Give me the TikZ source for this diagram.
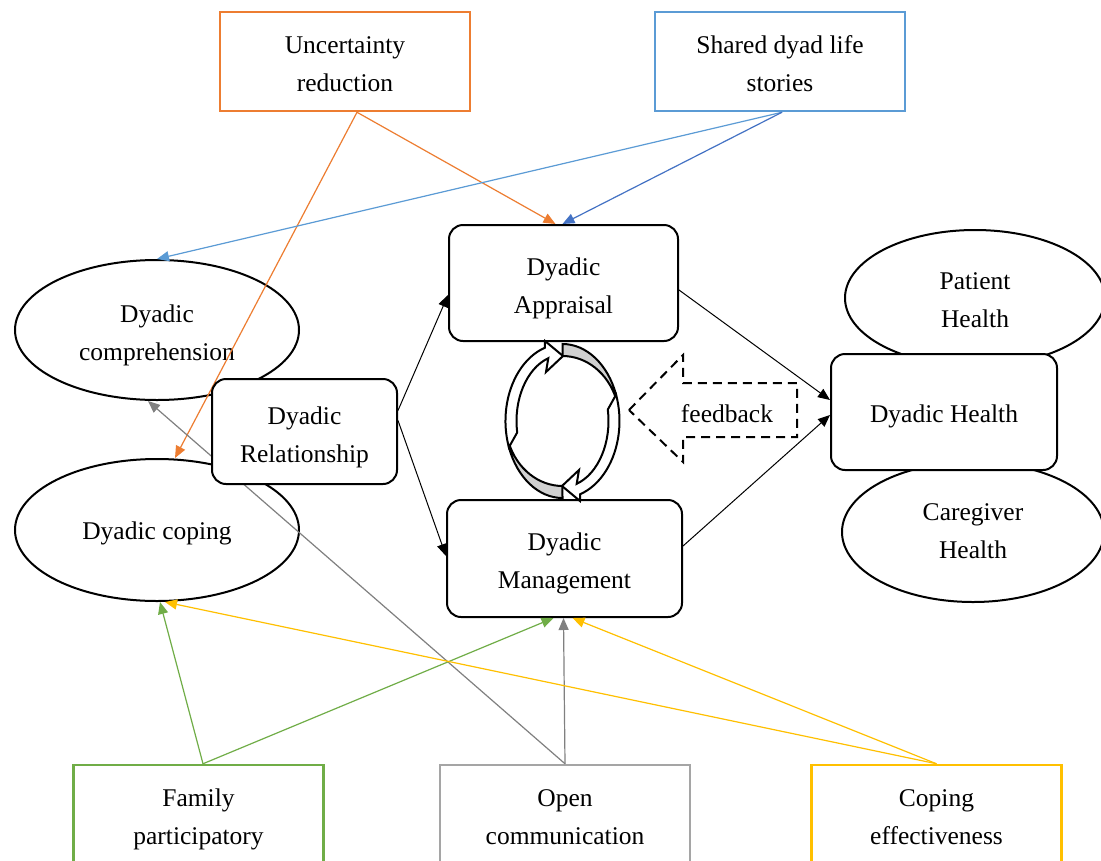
\documentclass[tikz,border=0pt]{standalone}
\usepackage{fontspec}
\setmainfont{Liberation Serif}
\usetikzlibrary{shapes.geometric,arrows.meta}
\definecolor{uorange}{RGB}{237,125,49}
\definecolor{ublue}{RGB}{91,155,213}
\definecolor{udblue}{RGB}{68,114,196}
\definecolor{ugray}{RGB}{165,165,165}
\definecolor{ugrayline}{RGB}{128,128,128}
\definecolor{ugreen}{RGB}{112,173,71}
\definecolor{ugold}{RGB}{255,192,0}
\definecolor{ushade}{RGB}{208,208,208}
\begin{document}
\begin{tikzpicture}
[every node/.style={inner sep=0pt, align=center, text height=24pt, font=\fontsize{25.5pt}{38pt}\selectfont},
 twoline/.style={text height=61pt},
 oval/.style={ellipse, line width=2pt, draw=black},
 sqbox/.style={rectangle, minimum width=250pt, minimum height=99pt, line width=2.5pt, twoline},
 rndbox/.style={rectangle, rounded corners=14pt, line width=2pt, draw=black, fill=white},
 link/.style={line width=1.2pt, -{Triangle[length=12pt,width=10pt]}}]
\useasboundingbox (0pt, 0pt) rectangle (1101pt, -860pt);
\clip (0pt, 0pt) rectangle (1101pt, -860pt);
\fill [white] (0pt, 0pt) rectangle (1101pt, -860pt);
\node (compr) [oval, minimum width=284pt, minimum height=140pt, text height=65.5pt] at (157.0pt, -330.0pt) {Dyadic\\comprehension};
\node (dcop) [oval, minimum width=284pt, minimum height=142pt] at (157.0pt, -530.0pt) {Dyadic coping};
\node (pat) [oval, minimum width=260pt, minimum height=136pt, text height=59.5pt] at (975.0pt, -298.0pt) {Patient\\Health};
\node (care) [oval, minimum width=262pt, minimum height=140pt, text height=53.5pt] at (973.0pt, -532.0pt) {Caregiver\\Health};
\node (unc) [sqbox, draw=uorange, text height=59.5pt] at (345.0pt, -61.5pt) {Uncertainty\\reduction};
\node (share) [sqbox, draw=ublue, text height=59.5pt] at (780.0pt, -61.5pt) {Shared dyad life\\stories};
\node (appr) [rndbox, minimum width=229pt, minimum height=116pt, text height=65.5pt] at (563.5pt, -283.0pt) {Dyadic\\Appraisal};
\node (mgmt) [rndbox, minimum width=235pt, minimum height=117pt, text height=65.5pt] at (564.5pt, -558.5pt) {Dyadic\\Management};
\node (fam) [sqbox, draw=ugreen, minimum height=102pt, text height=61.5pt] at (198.5pt, -816.0pt) {Family\\participatory};
\node (open) [sqbox, draw=ugray, minimum height=102pt, text height=57.5pt] at (565.0pt, -816.0pt) {Open\\communication};
\node (ceff) [sqbox, draw=ugold, minimum height=102pt, text height=57.5pt] at (936.5pt, -816.0pt) {Coping\\effectiveness};
\draw [link, color=uorange] ([xshift=12pt]unc.south) to ([xshift=-8pt]appr.north);
\draw [link, color=uorange] ([xshift=12pt]unc.south) to ([xshift=18pt]dcop.north);
\draw [link, color=ublue] ([xshift=2pt]share.south) to (compr.north);
\draw [link, color=udblue] ([xshift=2pt]share.south) to ([xshift=-1pt]appr.north);
\draw [link, color=ugrayline] (open.north) to ([xshift=-9pt]compr.south);
\draw [link, color=ugrayline] (open.north) to ([xshift=-1pt]mgmt.south);
\draw [link, color=ugreen] ([xshift=4.5pt]fam.north) to ([xshift=3pt]dcop.south);
\draw [link, color=ugreen] ([xshift=4.5pt]fam.north) to ([xshift=-11pt]mgmt.south);
\draw [link, color=ugold] (ceff.north) to ([xshift=8pt]mgmt.south);
\draw [link, color=ugold] (ceff.north) to ([xshift=8pt]dcop.south);
\node (rel) [rndbox, minimum width=185pt, minimum height=105pt, text height=67.5pt] at (304.5pt, -431.5pt) {Dyadic\\Relationship};
\node (dh) [rndbox, minimum width=226pt, minimum height=116pt, text height=26.5pt] at (944.0pt, -412.0pt) {Dyadic Health};
\draw [link, line width=1pt] ([yshift=21pt]rel.east) to ([yshift=-12pt]appr.west);
\draw [link, line width=1pt] ([yshift=11pt]rel.east) to ([yshift=2.5pt]mgmt.west);
\draw [link, line width=1pt] ([yshift=-7pt]appr.east) to ([yshift=12pt]dh.west);
\draw [link, line width=1pt] ([yshift=12.5pt]mgmt.east) to ([yshift=-3pt]dh.west);
% cycle between appraisal and management
\draw [line width=2pt, fill=ushade] (562.5pt, -498pt) arc [start angle=270, end angle=200, x radius=57pt, y radius=77pt]
  -- (508.9pt, -443.2pt) arc [start angle=200, end angle=270, x radius=57pt, y radius=65pt] -- cycle;
\draw [line width=2pt, fill=white] (508.9pt, -447.3pt) arc [start angle=200, end angle=108, x radius=57pt, y radius=77pt]
  -- (545pt, -341pt) -- (563pt, -356pt) -- (546pt, -372pt) -- (548.3pt, -358.2pt)
  arc [start angle=108, end angle=190, x radius=46pt, y radius=66pt] -- cycle;
\draw [line width=2pt, fill=ushade] (562.5pt, -344pt) arc [start angle=90, end angle=20, x radius=57pt, y radius=77pt]
  -- (616.06pt, -398.77pt) arc [start angle=20, end angle=90, x radius=57pt, y radius=65pt] -- cycle;
\draw [line width=2pt, fill=white] (616.06pt, -394.66pt) arc [start angle=20, end angle=-72, x radius=57pt, y radius=77pt]
  -- (580pt, -501pt) -- (562pt, -486pt) -- (579pt, -470pt) -- (576.7pt, -483.8pt)
  arc [start angle=-72, end angle=10, x radius=46pt, y radius=66pt] -- cycle;
% feedback block arrow
\draw [line width=2pt, dash pattern=on 9pt off 6pt] (629pt, -410pt) -- (683pt, -355pt) -- (683pt, -383pt) -- (797pt, -383pt)
  -- (797pt, -437pt) -- (683pt, -437pt) -- (683pt, -462pt) -- cycle;
\node (fb) [text height=20pt] at (727.0pt, -413.0pt) {feedback};
\end{tikzpicture}
\end{document}
